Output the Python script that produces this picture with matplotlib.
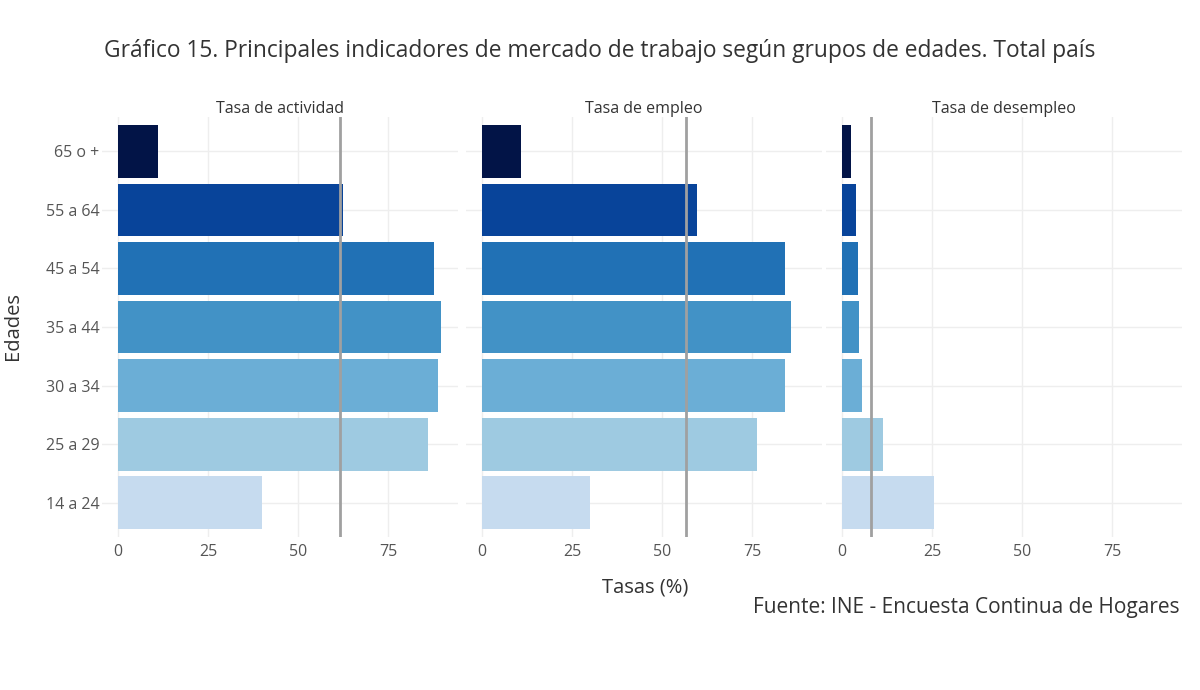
import matplotlib
matplotlib.use("Agg")
import matplotlib.pyplot as plt

plt.rcParams['font.family'] = ['Open Sans', 'DejaVu Sans']

# data
edades = ["14 a 24", "25 a 29", "30 a 34", "35 a 44", "45 a 54", "55 a 64", "65 o +"]
colores = ["#c6dbef", "#9ecae1", "#6baed6", "#4292c6", "#2171b5", "#08449a", "#021447"]

paneles = ["Tasa de actividad", "Tasa de empleo", "Tasa de desempleo"]
actividad = [40.0, 86.1, 88.8, 89.7, 87.7, 62.4, 11.1]
empleo = [29.8, 76.4, 83.9, 85.7, 84.1, 59.7, 10.7]
desempleo = [25.6, 11.3, 5.4, 4.8, 4.3, 3.9, 2.4]
totales = [61.6, 56.6, 7.9]  # total pais (linea vertical)

series = [actividad, empleo, desempleo]
ticks = [0, 25, 50, 75]

fig = plt.figure(figsize=(12, 6.9), dpi=100)
lefts = [0.085, 0.3883, 0.6883]
ypos = list(range(len(edades)))

for i, (nombre, vals) in enumerate(zip(paneles, series)):
    ax = fig.add_axes([lefts[i], 0.2217, 0.2967, 0.6087])
    ax.set_axisbelow(True)
    ax.barh(ypos, vals, height=0.9, color=colores, linewidth=0, zorder=2)
    ax.axvline(totales[i], color="#a0a0a0", linewidth=2, zorder=3)
    ax.set_xlim(-4.5, 94.3)
    ax.set_ylim(-0.585, 6.585)
    ax.set_xticks(ticks)
    ax.set_yticks(ypos)
    ax.grid(True, color="#eeeeee", linewidth=1)
    for s in ax.spines.values():
        s.set_visible(False)
    ax.tick_params(axis="x", length=0, labelsize=11.5, labelcolor="#555555", pad=5)
    ax.tick_params(axis="y", length=0, labelsize=11.5, labelcolor="#555555", pad=2)
    if i == 0:
        ax.set_yticklabels(edades)
    else:
        ax.set_yticklabels([])
    ax.set_title(nombre, fontsize=11.5, color="#333333", pad=3)

fig.text(0.5, 0.926, "Gráfico 15. Principales indicadores de mercado de trabajo según grupos de edades. Total país",
         ha="center", va="center", fontsize=16.4, color="#333333")
fig.text(0.011, 0.528, "Edades", rotation=90, ha="center", va="center", fontsize=14.5, color="#333333")
fig.text(0.5375, 0.148, "Tasas (%)", ha="center", va="center", fontsize=14.5, color="#333333")
fig.text(0.983, 0.12, "Fuente: INE - Encuesta Continua de Hogares", ha="right", va="center",
         fontsize=15, color="#333333")

fig.savefig("out.png", dpi=100, facecolor="white")
